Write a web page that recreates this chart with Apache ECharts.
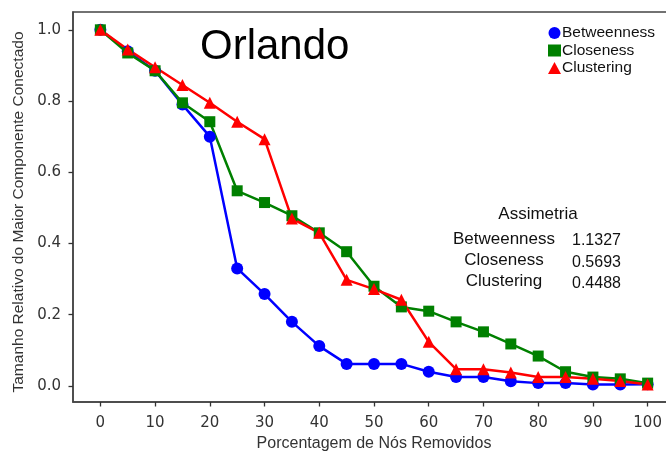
<!DOCTYPE html>
<html>
<head>
<meta charset="utf-8">
<script src="https://cdn.jsdelivr.net/npm/echarts@6/dist/echarts.min.js"></script>
<style>
  html, body { margin: 0; padding: 0; background: #fff; }
  #chart { width: 666px; height: 451px; }
</style>
</head>
<body>
<div id="chart"></div>
<script>
// porcentagem de nós removidos
const pcts = [0, 5, 10, 15, 20, 25, 30, 35, 40, 45, 50, 55, 60, 65, 70, 75, 80, 85, 90, 95, 100];
const betweenness = [1.0, 0.94, 0.885, 0.79, 0.70, 0.33, 0.258, 0.18, 0.112, 0.062, 0.062, 0.062, 0.04, 0.025, 0.025, 0.013, 0.008, 0.008, 0.004, 0.004, 0.005];
const closeness = [1.0, 0.935, 0.885, 0.795, 0.742, 0.548, 0.515, 0.478, 0.43, 0.377, 0.28, 0.222, 0.21, 0.18, 0.152, 0.118, 0.084, 0.04, 0.025, 0.02, 0.008];
const clustering = [1.0, 0.945, 0.895, 0.845, 0.795, 0.742, 0.693, 0.47, 0.43, 0.298, 0.272, 0.242, 0.124, 0.047, 0.047, 0.038, 0.025, 0.025, 0.02, 0.014, 0.004];
const xTicks = [0, 10, 20, 30, 40, 50, 60, 70, 80, 90, 100];
const yTicks = [0, 0.2, 0.4, 0.6, 0.8, 1.0];
const assimNames = ['Betweenness', 'Closeness', 'Clustering'];
const assimValues = ['1.1327', '0.5693', '0.4488'];

let myChart = echarts.init(document.getElementById('chart'));

function pairs(vals) {
  return pcts.map((p, i) => [p, vals[i]]);
}

const font = 'Arial, "Liberation Sans"';

// tabela de assimetria
let tableTexts = [{
  type: 'text',
  x: 538, y: 214,
  style: { text: 'Assimetria', font: '17px ' + font, fill: '#111', align: 'center', verticalAlign: 'middle' }
}];
assimNames.forEach((name, i) => {
  tableTexts.push({
    type: 'text',
    x: 504, y: 239 + i * 21,
    style: { text: name, font: '17px ' + font, fill: '#111', align: 'center', verticalAlign: 'middle' }
  });
  tableTexts.push({
    type: 'text',
    x: 572, y: 241 + i * 21.5,
    style: { text: assimValues[i], font: '16px ' + font, fill: '#111', align: 'left', verticalAlign: 'middle' }
  });
});

let option = {
  animation: false,
  title: {
    text: 'Orlando',
    left: 195, top: 21,
    textStyle: { fontSize: 42, fontWeight: 'normal', color: '#000', fontFamily: font }
  },
  legend: {
    orient: 'vertical',
    left: 543, top: 20,
    itemWidth: 13, itemHeight: 12, itemGap: 1.5,
    textStyle: { fontSize: 15.5, lineHeight: 16, color: '#111', padding: [0, 0, 0, -4], fontFamily: font },
    data: [
      { name: 'Betweenness', icon: 'circle' },
      { name: 'Closeness', icon: 'rect' },
      { name: 'Clustering', icon: 'triangle' }
    ]
  },
  grid: {
    left: 73, top: 12, width: 602, height: 390,
    outerBoundsMode: 'none',
    show: true, borderColor: '#444', borderWidth: 1.5
  },
  xAxis: {
    type: 'value', min: -5, max: 105,
    name: 'Porcentagem de Nós Removidos',
    nameLocation: 'middle', nameGap: 34,
    nameTextStyle: { fontSize: 16, color: '#333', fontFamily: font },
    axisLine: { show: true, onZero: false, lineStyle: { color: '#444', width: 1.5 } },
    splitLine: { show: false },
    axisTick: { show: true, inside: false, length: 4.5, customValues: xTicks, lineStyle: { color: '#333', width: 1.3 } },
    axisLabel: { customValues: xTicks, fontSize: 15, color: '#333', margin: 14, fontFamily: '"DejaVu Sans"' }
  },
  yAxis: {
    type: 'value', min: -0.045, max: 1.05,
    name: 'Tamanho Relativo do Maior Componente Conectado',
    nameLocation: 'middle', nameGap: 46,
    nameTextStyle: { fontSize: 15.5, color: '#333', fontFamily: font, padding: [0, 0, 0, -10] },
    axisLine: { show: true, onZero: false, lineStyle: { color: '#444', width: 1.5 } },
    splitLine: { show: false },
    axisTick: { show: true, inside: false, length: 4.5, customValues: yTicks, lineStyle: { color: '#333', width: 1.3 } },
    axisLabel: {
      customValues: yTicks, fontSize: 15, color: '#333', margin: 12, fontFamily: '"DejaVu Sans"',
      formatter: v => v.toFixed(1)
    }
  },
  series: [
    {
      name: 'Betweenness', type: 'line', data: pairs(betweenness),
      symbol: 'circle', symbolSize: 12,
      itemStyle: { color: '#0000ff' }, lineStyle: { color: '#0000ff', width: 2.5 }
    },
    {
      name: 'Closeness', type: 'line', data: pairs(closeness),
      symbol: 'rect', symbolSize: 11,
      itemStyle: { color: '#008000' }, lineStyle: { color: '#008000', width: 2.5 }
    },
    {
      name: 'Clustering', type: 'line', data: pairs(clustering),
      symbol: 'triangle', symbolSize: 12,
      itemStyle: { color: '#ff0000' }, lineStyle: { color: '#ff0000', width: 2.5 }
    }
  ],
  graphic: tableTexts
};
myChart.setOption(option);
</script>
</body>
</html>
